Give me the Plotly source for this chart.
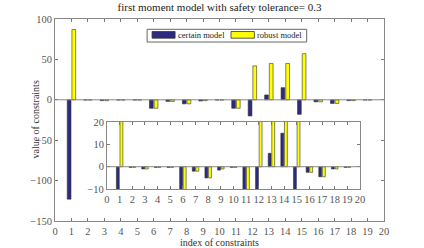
import plotly.graph_objects as go

idx = list(range(1, 20))
certain = [-123, -0.3, -1, -0.3, -0.3, -10.5, -2, -5, -1.5, -0.3, -10.5, -20, 6, 15, -18, -2.5, -4.5, -1, -0.3]
robust = [87, -0.3, -1, -0.3, -0.3, -10.5, -2, -5, -1, -0.3, -10.5, 42, 45, 45, 57, -2.5, -4.5, -1, -0.3]
series_names = ["certain model", "robust model"]
xticks = list(range(0, 21))
main_yticks = [-150, -100, -50, 0, 50, 100]
inset_yticks = [-10, 0, 10, 20]

BLUE = "#2d2a80"
YEL = "#ffff00"
EDGE = "#333333"
FONT = "Liberation Serif"
TICKC = "#555555"

fig = go.Figure()
for xa, ya in [("x", "y"), ("x2", "y2")]:
    fig.add_trace(go.Bar(x=idx, y=certain, name=series_names[0], marker=dict(color=BLUE, line=dict(color=EDGE, width=0.6)),
                         xaxis=xa, yaxis=ya, showlegend=False))
    fig.add_trace(go.Bar(x=idx, y=robust, name=series_names[1], marker=dict(color=YEL, line=dict(color=EDGE, width=0.6)),
                         xaxis=xa, yaxis=ya, showlegend=False))

axcommon = dict(showgrid=False, ticks="inside", ticklen=3, tickcolor="#777", linecolor="#888", linewidth=1,
                mirror="ticks", showline=True, tickfont=dict(family=FONT, size=10.5, color=TICKC),
                zeroline=False, automargin=False, tickangle=0)

fig.update_layout(
    width=424, height=248,
    margin=dict(l=55, r=40, t=19, b=27),
    paper_bgcolor="white", plot_bgcolor="white",
    barmode="group", bargap=0.43, bargroupgap=0.2,
    title=dict(text="first moment model with safety tolerance= 0.3", x=0.5, xref="paper", xanchor="center",
               y=0.985, yanchor="top", font=dict(family=FONT, size=11, color="#222"), automargin=False),
    xaxis=dict(range=[0, 20], tickvals=xticks, domain=[0, 1],
               title=dict(text="index of constraints", font=dict(family=FONT, size=10, color="#333"), standoff=0), **axcommon),
    yaxis=dict(range=[-150, 100], tickvals=main_yticks, domain=[0, 1], **axcommon),
    xaxis2=dict(range=[0, 20], tickvals=xticks, domain=[0.158, 0.927], anchor="y2", **axcommon),
    yaxis2=dict(range=[-10, 20], tickvals=inset_yticks, domain=[0.158, 0.49], anchor="x2", **axcommon),
    showlegend=False,
)
fig.add_annotation(text="value of constraints", textangle=-90, x=-0.085, y=0.5, xref="paper", yref="paper",
                   showarrow=False, font=dict(family=FONT, size=10, color="#333"))
fig.add_hline(y=0, line=dict(color="#888", width=1), xref="x", yref="y")
fig.add_shape(type="line", x0=0, x1=20, y0=0, y1=0, xref="x2", yref="y2", line=dict(color="#888", width=1), layer="above")

# legend box drawn in paper coordinates
fig.add_shape(type="rect", x0=0.280, x1=0.765, y0=0.886, y1=0.949, xref="paper", yref="paper",
              line=dict(color="#666", width=1), fillcolor="white", layer="above")
for (sx0, sx1, tx), col, nm in zip([(0.295, 0.365, 0.368), (0.535, 0.606, 0.608)], [BLUE, YEL], series_names):
    fig.add_shape(type="rect", x0=sx0, x1=sx1, y0=0.905, y1=0.938, xref="paper", yref="paper",
                  line=dict(color=EDGE, width=0.8), fillcolor=col, layer="above")
    fig.add_annotation(text=nm, x=tx, y=0.919, xref="paper", yref="paper", xanchor="left", yanchor="middle",
                       showarrow=False, font=dict(family=FONT, size=8.5, color="#222"))
fig.write_html("out.html")
